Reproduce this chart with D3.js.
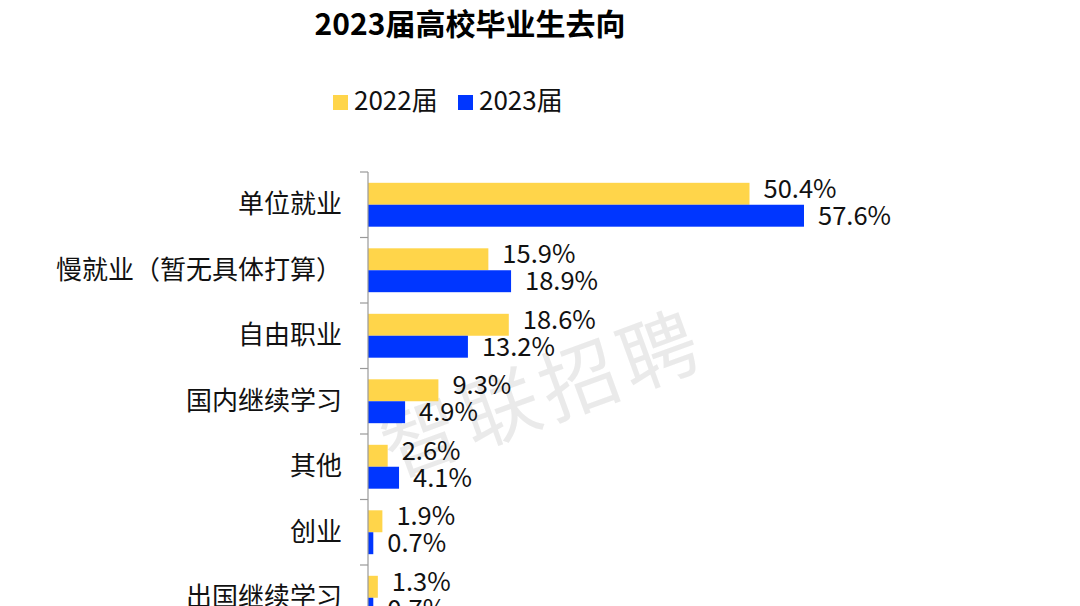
<!DOCTYPE html>
<html><head><meta charset="utf-8">
<script src="https://cdn.jsdelivr.net/npm/d3@7"></script>
<style>body{margin:0;background:#fff}svg{display:block}</style>
</head><body>
<svg id="c" width="1080" height="606"></svg>
<script>
const categories = ["单位就业","慢就业（暂无具体打算）","自由职业","国内继续学习","其他","创业","出国继续学习"];
const seriesNames = ["2022届","2023届"];
const values2022 = [50.4,15.9,18.6,9.3,2.6,1.9,1.3];
const values2023 = [57.6,18.9,13.2,4.9,4.1,0.7,0.7];
const colors = ["#FFD54A","#0036FF"];
const title = "2023届高校毕业生去向";
const watermark = "智联招聘";

const svg = d3.select("#c");
const font = "'Noto Sans CJK SC','Noto Sans',sans-serif";
const x0 = 368;
const x = d3.scaleLinear().domain([0,57.6]).range([x0, 804]);
const y = d3.scaleBand().domain(categories).range([172, 630.5]).paddingInner(0.33).paddingOuter(0.165);
const step = y.step();
const yi = d3.scaleBand().domain(seriesNames).range([0, y.bandwidth()]);

// watermark
svg.append("text").attr("transform","translate(545,400) rotate(-20)")
  .attr("text-anchor","middle").attr("dominant-baseline","middle")
  .attr("font-family",font).attr("font-size",78).attr("fill","#e4e4e4").attr("opacity",0.75)
  .attr("letter-spacing",6).text(watermark);

// title
svg.append("text").attr("x",470).attr("y",35).attr("text-anchor","middle")
  .attr("font-family",font).attr("font-weight","bold").attr("font-size",30).attr("fill","#000").text(title);

// legend
const legendX = [333, 458];
seriesNames.forEach((s,i)=>{
  svg.append("rect").attr("x",legendX[i]).attr("y",95).attr("width",15).attr("height",15).attr("fill",colors[i]);
  svg.append("text").attr("x",legendX[i]+21).attr("y",103).attr("dominant-baseline","middle")
    .attr("font-family",font).attr("font-size",26).attr("fill","#111").text(s);
});

// bars
const data = categories.map((c,i)=>({c, v:[values2022[i], values2023[i]]}));
const g = svg.append("g");
data.forEach(d=>{
  d.v.forEach((v,j)=>{
    const yy = y(d.c) + yi(seriesNames[j]);
    g.append("rect").attr("x",x(0)).attr("y",yy).attr("width",x(v)-x(0)).attr("height",yi.bandwidth()).attr("fill",colors[j]);
    g.append("text").attr("x",x(v)+14).attr("y",yy+yi.bandwidth()/2 + (j===0?-3:2))
      .attr("dominant-baseline","middle").attr("font-family",font).attr("font-size",25.5).attr("fill","#111")
      .text(v.toFixed(1)+"%");
  });
});

// axis
const axis = d3.axisLeft(y).tickSize(0).tickPadding(26);
const ag = svg.append("g").attr("transform",`translate(${x0},0)`).call(axis);
ag.select(".domain").remove();
ag.selectAll("text").attr("font-family",font).attr("font-size",26).attr("fill","#111");
svg.append("line").attr("x1",x0).attr("x2",x0).attr("y1",y.range()[0]).attr("y2",y.range()[1]).attr("stroke","#999").attr("stroke-width",1.2);
const bounds = categories.map(c=>y(c)-step*y.paddingInner()/2).concat([y.range()[1]]);
svg.append("g").selectAll("line").data(bounds).join("line")
  .attr("x1",x0-8).attr("x2",x0).attr("y1",d=>d).attr("y2",d=>d).attr("stroke","#999").attr("stroke-width",1.2);
</script>
</body></html>
